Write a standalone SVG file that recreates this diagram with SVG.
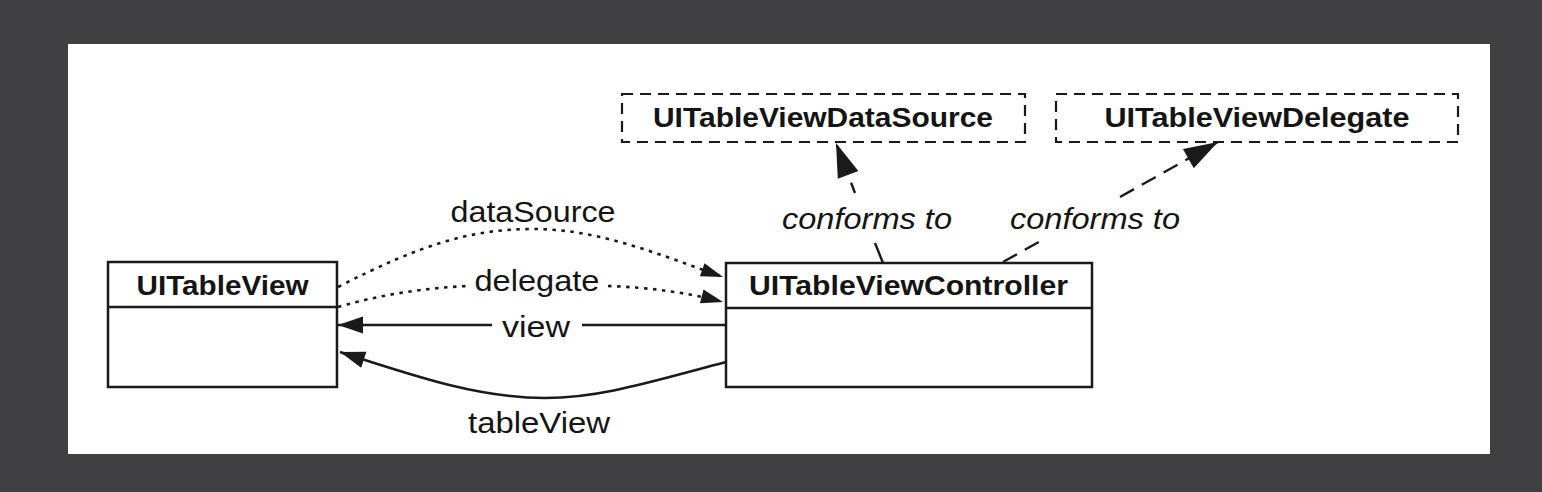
<svg xmlns="http://www.w3.org/2000/svg" width="1542" height="492" viewBox="0 0 1542 492">
  <style>
    .box { fill: #ffffff; stroke: #1a1a1a; stroke-width: 2.5; }
    .proto { fill: #ffffff; stroke: #1a1a1a; stroke-width: 2.2; stroke-dasharray: 11 7; }
    .div { stroke: #1a1a1a; stroke-width: 2.5; }
    .title { font-family: "Liberation Sans", Helvetica, Arial, sans-serif; font-weight: bold; font-size: 27px; fill: #141414; }
    .lbl { font-family: "Liberation Sans", Helvetica, Arial, sans-serif; font-size: 29px; fill: #141414; }
    .ital { font-style: italic; }
    .solid { fill: none; stroke: #1a1a1a; stroke-width: 2.5; }
    .dotted { fill: none; stroke: #1a1a1a; stroke-width: 2.6; stroke-dasharray: 3.5 5.5; }
    .dashed { fill: none; stroke: #1a1a1a; stroke-width: 2.4; }
  </style>
  <defs>
    <marker id="arrowS" markerUnits="userSpaceOnUse" markerWidth="22" markerHeight="14" refX="22" refY="7" orient="auto" overflow="visible">
      <path d="M0,0 L22,7 L0,14 z" fill="#1a1a1a"/>
    </marker>
    <marker id="arrowM" markerUnits="userSpaceOnUse" markerWidth="25" markerHeight="17" refX="25" refY="8.5" orient="auto" overflow="visible">
      <path d="M0,0 L25,8.5 L0,17 z" fill="#1a1a1a"/>
    </marker>
    <marker id="arrowL" markerUnits="userSpaceOnUse" markerWidth="34" markerHeight="22" refX="34" refY="11" orient="auto" overflow="visible">
      <path d="M0,0 L34,11 L0,22 z" fill="#1a1a1a"/>
    </marker>
  </defs>

  <rect x="0" y="0" width="1542" height="492" fill="#404042"/>
  <rect x="68" y="44" width="1422" height="410" fill="#ffffff"/>

  <g id="UITableView">
    <rect class="box" x="108" y="262" width="229" height="125"/>
    <line class="div" x1="108" y1="307" x2="337" y2="307"/>
    <text class="title" x="222.5" y="295" text-anchor="middle" textLength="172" lengthAdjust="spacingAndGlyphs">UITableView</text>
  </g>

  <g id="UITableViewController">
    <rect class="box" x="726" y="263" width="366" height="124"/>
    <line class="div" x1="726" y1="308" x2="1092" y2="308"/>
    <text class="title" x="908.5" y="295" text-anchor="middle" textLength="319" lengthAdjust="spacingAndGlyphs">UITableViewController</text>
  </g>

  <g id="UITableViewDataSource">
    <rect class="proto" x="622" y="94" width="403" height="48"/>
    <text class="title" x="823" y="127" text-anchor="middle" textLength="340" lengthAdjust="spacingAndGlyphs">UITableViewDataSource</text>
  </g>

  <g id="UITableViewDelegate">
    <rect class="proto" x="1056" y="94" width="402" height="48"/>
    <text class="title" x="1257" y="127" text-anchor="middle" textLength="305" lengthAdjust="spacingAndGlyphs">UITableViewDelegate</text>
  </g>

  <g id="connectors">
    <!-- dataSource -->
    <path class="dotted" d="M338,287 C420,245 470,229 533,229 C600,229 660,255 723,277" marker-end="url(#arrowS)"/>
    <text class="lbl" x="533" y="222" text-anchor="middle" textLength="165" lengthAdjust="spacingAndGlyphs">dataSource</text>
    <!-- delegate -->
    <path class="dotted" d="M338,307 Q400,289 468,286"/>
    <path class="dotted" d="M608,286 Q670,288 723,302" marker-end="url(#arrowS)"/>
    <text class="lbl" x="537" y="291" text-anchor="middle" textLength="125" lengthAdjust="spacingAndGlyphs">delegate</text>
    <!-- view -->
    <path class="solid" d="M726,325 L582,325 M492,325 L338,325" marker-end="url(#arrowM)"/>
    <text class="lbl" x="536" y="337" text-anchor="middle" textLength="68" lengthAdjust="spacingAndGlyphs">view</text>
    <!-- tableView -->
    <path class="solid" d="M726,362 C650,382 600,398 545,398 C480,398 420,378 340,352" marker-end="url(#arrowM)"/>
    <text class="lbl" x="539" y="433" text-anchor="middle" textLength="142" lengthAdjust="spacingAndGlyphs">tableView</text>
    <!-- conforms to DataSource -->
    <path class="dashed" d="M883,263 L875,243"/>
    <path class="dashed" stroke-dasharray="11 9" d="M855,193 L836,143" marker-end="url(#arrowL)"/>
    <text class="lbl ital" x="867" y="229" text-anchor="middle" textLength="170" lengthAdjust="spacingAndGlyphs">conforms to</text>
    <!-- conforms to Delegate -->
    <path class="dashed" stroke-dasharray="16 9" d="M1003,262 L1046,238"/>
    <path class="dashed" stroke-dasharray="16 9" d="M1120,197 L1218,142" marker-end="url(#arrowL)"/>
    <text class="lbl ital" x="1095" y="229" text-anchor="middle" textLength="170" lengthAdjust="spacingAndGlyphs">conforms to</text>
  </g>
</svg>
